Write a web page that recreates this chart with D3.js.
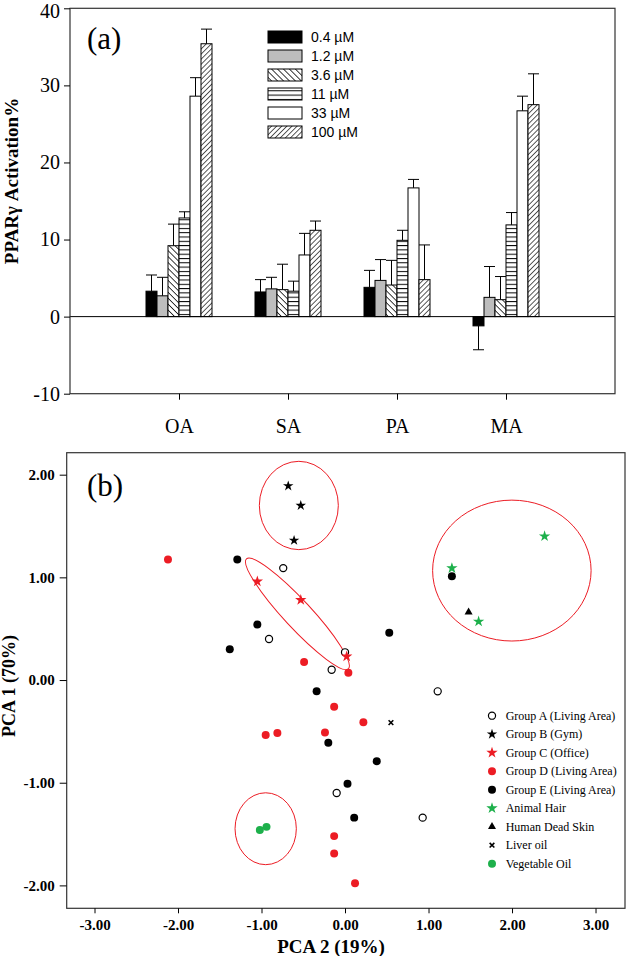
<!DOCTYPE html>
<html><head><meta charset="utf-8">
<script src="https://cdn.jsdelivr.net/npm/d3@7"></script>
<style>
html,body{margin:0;padding:0;background:#fff;}
svg{display:block;}
</style></head>
<body>
<svg id="chart" width="626" height="956"></svg>
<script>
// ---------- Panel (a) data ----------
const acids = ["OA", "SA", "PA", "MA"];
const doses = ["0.4 µM", "1.2 µM", "3.6 µM", "11 µM", "33 µM", "100 µM"];
const valOA = [3.3, 2.7, 9.2, 12.8, 28.6, 35.4];
const valSA = [3.2, 3.6, 3.5, 3.3, 8.0, 11.2];
const valPA = [3.8, 4.7, 4.1, 9.9, 16.7, 4.8];
const valMA = [-1.2, 2.5, 2.2, 11.9, 26.7, 27.5];
const errOA = [2.1, 2.4, 2.8, 0.8, 2.4, 1.9];
const errSA = [1.6, 1.5, 3.3, 1.3, 2.8, 1.2];
const errPA = [2.2, 2.7, 3.2, 1.3, 1.1, 4.5];
const errMA = [3.1, 4.0, 3.0, 1.6, 1.9, 4.0];
const yTicksA = [-10, 0, 10, 20, 30, 40];

// ---------- Panel (b) data ----------
const groupA = [[-0.74,1.09],[-0.91,0.40],[0.0,0.27],[-0.16,0.10],[1.11,-0.11],[-0.10,-1.10],[0.93,-1.34]];
const groupB = [[-0.68,1.89],[-0.53,1.70],[-0.61,1.36]];
const groupC = [[-1.05,0.96],[-0.53,0.78],[0.02,0.23]];
const groupD = [[-2.12,1.175],[-0.49,0.175],[0.04,0.07],[-0.95,-0.535],[-0.81,-0.516],[-0.13,-0.26],[0.22,-0.41],[-0.24,-0.51],[-0.13,-1.52],[-0.13,-1.69],[0.12,-1.98]];
const groupE = [[-1.29,1.175],[-1.05,0.54],[-1.38,0.30],[-0.34,-0.11],[1.28,1.01],[0.53,0.46],[-0.20,-0.61],[0.38,-0.79],[0.03,-1.01],[0.11,-1.34]];
const animalHair = [[2.39,1.40],[1.28,1.09],[1.60,0.57]];
const deadSkin = [[1.48,0.66]];
const liverOil = [[0.55,-0.415]];
const vegOil = [[-1.02,-1.46],[-0.94,-1.43]];
const legendB = ["Group A (Living Area)","Group B (Gym)","Group C (Office)","Group D (Living Area)","Group E (Living Area)","Animal Hair","Human Dead Skin","Liver oil","Vegetable Oil"];
const ticksB = [-3, -2, -1, 0, 1, 2, 3];
const yTicksB = [-2, -1, 0, 1, 2];
// ellipses: center x, center y, semi-axis x, semi-axis y (data units)
const ellipses = [[-0.553, 1.70, 0.473, 0.43],[1.998, 1.066, 0.949, 0.686],[-0.95, -1.448, 0.367, 0.35]];
// tilted ellipse: end points of major axis + half width (x units)
const tilted = {x1: -1.18, y1: 1.18, x2: 0.04, y2: 0.11, hw: 0.165};

const serif = '"Times New Roman","Liberation Serif",serif';
const sans = 'Arial,"Liberation Sans",sans-serif';
const svg = d3.select("#chart");
const defs = svg.append("defs");
const loc = d3.formatLocale({decimal: ".", thousands: ",", grouping: [3], currency: ["$", ""], minus: "-"});

function hatch(id, build) {
  const p = defs.append("pattern").attr("id", id).attr("patternUnits", "userSpaceOnUse");
  build(p);
}
hatch("hBack", p => {
  p.attr("width", 4.2).attr("height", 4.2).attr("patternTransform", "rotate(-45)");
  p.append("rect").attr("width", 4.2).attr("height", 4.2).attr("fill", "#fff");
  p.append("line").attr("x1", 0).attr("y1", 0).attr("x2", 0).attr("y2", 4.2).attr("stroke", "#000").attr("stroke-width", 1.5);
});
hatch("hHoriz", p => {
  p.attr("width", 8).attr("height", 4.3);
  p.append("rect").attr("width", 8).attr("height", 4.3).attr("fill", "#fff");
  p.append("line").attr("x1", 0).attr("y1", 0.5).attr("x2", 8).attr("y2", 0.5).attr("stroke", "#000").attr("stroke-width", 1);
});
hatch("hFwd", p => {
  p.attr("width", 3.6).attr("height", 3.6).attr("patternTransform", "rotate(45)");
  p.append("rect").attr("width", 3.6).attr("height", 3.6).attr("fill", "#fff");
  p.append("line").attr("x1", 0).attr("y1", 0).attr("x2", 0).attr("y2", 3.6).attr("stroke", "#000").attr("stroke-width", 1.3);
});
const fills = ["#000", "#bdbdbd", "url(#hBack)", "url(#hHoriz)", "#fff", "url(#hFwd)"];

// ================= Panel (a) =================
const A = {l: 70, r: 615, t: 8.3, b: 393.7};
const xA = d3.scaleLinear().domain([0, 5]).range([A.l, A.r]);
const yA = d3.scaleLinear().domain([-10, 40]).range([A.b, A.t]);
const gA = svg.append("g");
const barW = 11;
const vals = [valOA, valSA, valPA, valMA];
const errs = [errOA, errSA, errPA, errMA];
const barData = [];
acids.forEach((a, i) => doses.forEach((d, j) => barData.push({i, j, v: vals[i][j], e: errs[i][j]})));
const bx = d => xA(d.i + 1) - 3 * barW + d.j * barW;

// error bars (behind bars)
gA.selectAll(".err").data(barData).join("g").each(function(d) {
  const g = d3.select(this);
  const cx = bx(d) + barW / 2;
  const end = d.v >= 0 ? d.v + d.e : d.v - d.e;
  g.append("line").attr("x1", cx).attr("x2", cx).attr("y1", yA(d.v)).attr("y2", yA(end)).attr("stroke", "#000").attr("stroke-width", 1);
  g.append("line").attr("x1", cx - barW / 2).attr("x2", cx + barW / 2).attr("y1", yA(end)).attr("y2", yA(end)).attr("stroke", "#000").attr("stroke-width", 1);
});
gA.selectAll(".bar").data(barData).join("rect")
  .attr("x", bx).attr("width", barW)
  .attr("y", d => yA(Math.max(0, d.v)))
  .attr("height", d => Math.abs(yA(d.v) - yA(0)))
  .attr("fill", d => fills[d.j]).attr("stroke", "#000").attr("stroke-width", 1);

// zero line
gA.append("line").attr("x1", A.l).attr("x2", A.r).attr("y1", yA(0)).attr("y2", yA(0)).attr("stroke", "#000").attr("stroke-width", 1);
// frame
gA.append("rect").attr("x", A.l).attr("y", A.t).attr("width", A.r - A.l).attr("height", A.b - A.t)
  .attr("fill", "none").attr("stroke", "#333").attr("stroke-width", 1.2);
// axes
const axYA = d3.axisLeft(yA).tickValues(yTicksA).tickSize(6).tickPadding(4).tickFormat(loc.format("d"));
gA.append("g").attr("transform", `translate(${A.l},0)`).call(axYA)
  .call(g => g.select(".domain").remove())
  .call(g => g.selectAll("text").attr("font-family", serif).attr("font-size", 20).attr("fill", "#000"))
  .call(g => g.selectAll(".tick").filter(d => d === 40).select("text").attr("dy", "0.45em"));
const axXA = d3.axisBottom(xA).tickValues([1, 2, 3, 4]).tickSize(6).tickPadding(19).tickFormat(d => acids[d - 1]);
gA.append("g").attr("transform", `translate(0,${A.b})`).call(axXA)
  .call(g => g.select(".domain").remove())
  .call(g => g.selectAll("text").attr("font-family", serif).attr("font-size", 20).attr("fill", "#000"));
gA.append("text").attr("transform", `translate(18,181) rotate(-90)`).attr("text-anchor", "middle")
  .attr("font-family", serif).attr("font-weight", "bold").attr("font-size", 19).text("PPARγ Activation%");
gA.append("text").attr("x", 87).attr("y", 49).attr("font-family", serif).attr("font-size", 31).text("(a)");
// legend a
const legA = gA.append("g");
doses.forEach((d, j) => {
  const y = 37 + j * 19;
  legA.append("rect").attr("x", 268).attr("y", y - 6).attr("width", 34).attr("height", 12)
    .attr("fill", fills[j]).attr("stroke", "#000").attr("stroke-width", 1);
  legA.append("text").attr("x", 311).attr("y", y + 5).attr("font-family", sans).attr("font-size", 14).text(d);
});

// ================= Panel (b) =================
const B = {l: 66.7, r: 625, t: 452.7, b: 908.3};
const xB = d3.scaleLinear().domain([-3.333, 3.353]).range([B.l, B.r]);
const yB = d3.scaleLinear().domain([-2.223, 2.214]).range([B.b, B.t]);
const gB = svg.append("g");
gB.append("rect").attr("x", B.l).attr("y", B.t).attr("width", B.r - B.l).attr("height", B.b - B.t)
  .attr("fill", "none").attr("stroke", "#333").attr("stroke-width", 1.2);
const fmt2 = loc.format(".2f");
gB.append("g").attr("transform", `translate(${B.l},0)`)
  .call(d3.axisLeft(yB).tickValues(yTicksB).tickSize(7).tickPadding(5).tickFormat(fmt2))
  .call(g => g.select(".domain").remove())
  .call(g => g.selectAll("text").attr("font-family", serif).attr("font-weight", "bold").attr("font-size", 15).attr("fill", "#000"));
gB.append("g").attr("transform", `translate(0,${B.b})`)
  .call(d3.axisBottom(xB).tickValues(ticksB).tickSize(5).tickPadding(6).tickFormat(fmt2))
  .call(g => g.select(".domain").remove())
  .call(g => g.selectAll("text").attr("font-family", serif).attr("font-weight", "bold").attr("font-size", 15).attr("fill", "#000"));
gB.append("text").attr("x", 331).attr("y", 953).attr("text-anchor", "middle")
  .attr("font-family", serif).attr("font-weight", "bold").attr("font-size", 19).text("PCA 2 (19%)");
gB.append("text").attr("transform", `translate(15,686) rotate(-90)`).attr("text-anchor", "middle")
  .attr("font-family", serif).attr("font-weight", "bold").attr("font-size", 18).text("PCA 1 (70%)");
gB.append("text").attr("x", 87).attr("y", 496).attr("font-family", serif).attr("font-size", 31).text("(b)");

// ellipses
const red = "#ec1c24", green = "#1db04b";
gB.selectAll(".ell").data(ellipses).join("ellipse")
  .attr("cx", d => xB(d[0])).attr("cy", d => yB(d[1]))
  .attr("rx", d => xB(d[0] + d[2]) - xB(d[0])).attr("ry", d => yB(d[1] - d[3]) - yB(d[1]))
  .attr("fill", "none").attr("stroke", red).attr("stroke-width", 1);
{
  const px1 = xB(tilted.x1), py1 = yB(tilted.y1), px2 = xB(tilted.x2), py2 = yB(tilted.y2);
  const cx = (px1 + px2) / 2, cy = (py1 + py2) / 2;
  const rx = Math.hypot(px2 - px1, py2 - py1) / 2;
  const ry = xB(tilted.hw) - xB(0);
  const ang = Math.atan2(py2 - py1, px2 - px1) * 180 / Math.PI;
  gB.append("ellipse").attr("cx", 0).attr("cy", 0).attr("rx", rx).attr("ry", ry)
    .attr("transform", `translate(${cx},${cy}) rotate(${ang})`)
    .attr("fill", "none").attr("stroke", red).attr("stroke-width", 1);
}

const timesSym = {draw(ctx, size) { const r = Math.sqrt(size) / 2; ctx.moveTo(-r, -r); ctx.lineTo(r, r); ctx.moveTo(r, -r); ctx.lineTo(-r, r); }};
const series = [
  {data: groupA, type: d3.symbolCircle, size: 40, fill: "#fff", stroke: "#000", sw: 1.2},
  {data: groupB, type: d3.symbolStar, size: 34, fill: "#000", stroke: "none", sw: 0},
  {data: groupC, type: d3.symbolStar, size: 40, fill: red, stroke: "none", sw: 0},
  {data: groupD, type: d3.symbolCircle, size: 50, fill: red, stroke: "none", sw: 0},
  {data: groupE, type: d3.symbolCircle, size: 50, fill: "#000", stroke: "none", sw: 0},
  {data: animalHair, type: d3.symbolStar, size: 40, fill: green, stroke: "none", sw: 0},
  {data: deadSkin, type: d3.symbolTriangle, size: 28, fill: "#000", stroke: "none", sw: 0},
  {data: liverOil, type: timesSym, size: 22, fill: "none", stroke: "#000", sw: 1.6},
  {data: vegOil, type: d3.symbolCircle, size: 50, fill: green, stroke: "none", sw: 0}
];
series.forEach(s => {
  gB.append("g").selectAll("path").data(s.data).join("path")
    .attr("transform", d => `translate(${xB(d[0])},${yB(d[1])})`)
    .attr("d", d3.symbol().type(s.type).size(s.size))
    .attr("fill", s.fill).attr("stroke", s.stroke).attr("stroke-width", s.sw);
});
// legend b
const legB = gB.append("g");
legendB.forEach((t, i) => {
  const y = 715.7 + i * 18.5;
  const s = series[i];
  legB.append("path").attr("transform", `translate(492,${y})`)
    .attr("d", d3.symbol().type(s.type).size(s.size)).attr("fill", s.fill).attr("stroke", s.stroke).attr("stroke-width", s.sw);
  legB.append("text").attr("x", 505.7).attr("y", y + 4).attr("font-family", serif).attr("font-size", 12).text(t);
});
</script>
</body></html>
